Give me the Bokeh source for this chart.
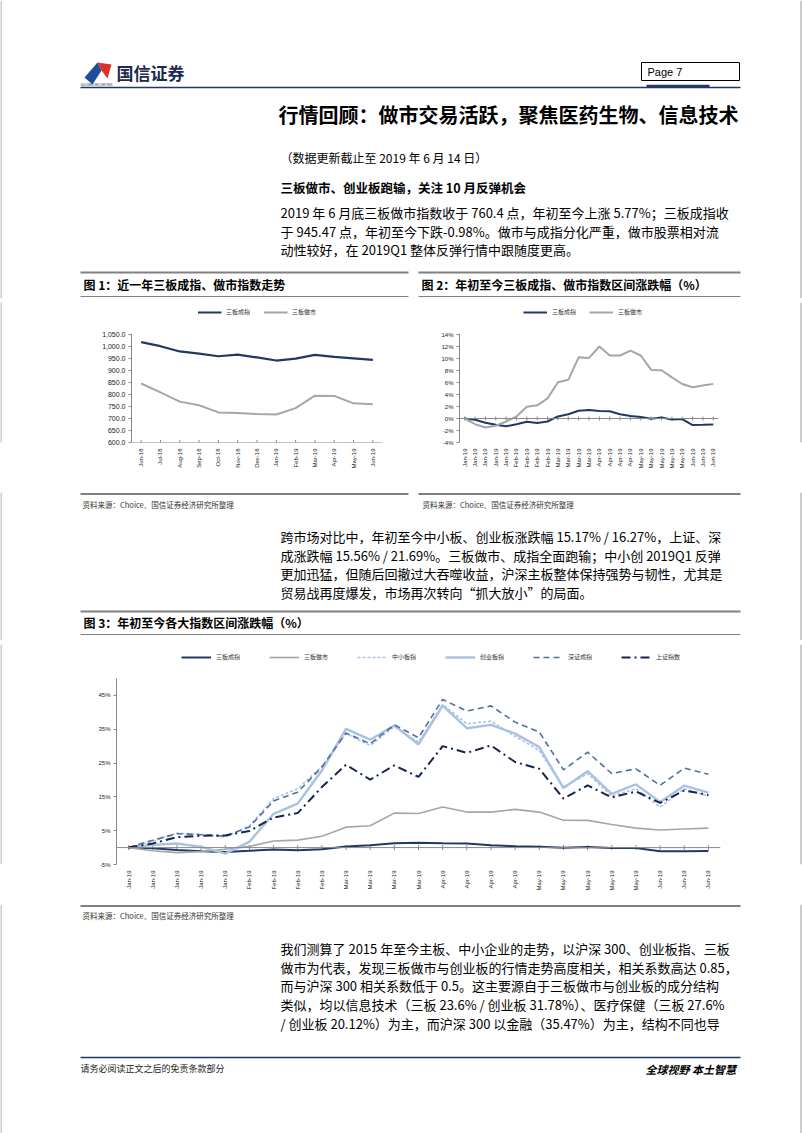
from math import pi
from bokeh.plotting import figure
from bokeh.layouts import column, row
from bokeh.models import (Range1d, FixedTicker, NumeralTickFormatter, PrintfTickFormatter,
                          Legend, LegendItem, Span)
from bokeh.core.properties import value
from bokeh.embed import file_html
from bokeh.resources import INLINE

CJK = "Noto Sans CJK SC"
LAT = "Liberation Sans"

# ---------------- data ----------------
months_1y = ["Jun-18", "Jul-18", "Aug-18", "Sep-18", "Oct-18", "Nov-18", "Dec-18",
             "Jan-19", "Feb-19", "Mar-19", "Apr-19", "May-19", "Jun-19"]
month_idx = list(range(len(months_1y)))
sanban_chengzhi_1y = [1020, 1003, 981, 972, 961, 968, 956, 943, 951, 967, 958, 952, 945.47]
sanban_zuoshi_1y = [847, 810, 771, 756, 726, 723, 719, 717, 744, 796, 795, 764, 760.4]

week_labels = (["Jan-19"] * 5 + ["Feb-19"] * 4 + ["Mar-19"] * 4 + ["Apr-19"] * 4
               + ["May-19"] * 5 + ["Jun-19"] * 3)
week_idx = list(range(len(week_labels)))

sanban_chengzhi_ytd = [0, -0.2, -0.7, -1.05, -1.3, -0.95, -0.55, -0.75, -0.5, 0.35, 0.7, 1.28, 1.4,
                       1.25, 1.2, 0.7, 0.4, 0.25, -0.05, 0.15, -0.15, -0.1, -1.1, -1.05, -0.98]
sanban_zuoshi_ytd = [0, -0.95, -1.5, -1.2, -0.5, 0.35, 1.95, 2.2, 3.35, 6.05, 6.45, 10.2, 10.1,
                     12.0, 10.5, 10.5, 11.3, 10.5, 8.1, 8.05, 6.85, 5.75, 5.2, 5.5, 5.77]
zhongxiao_ytd = [0, 1.9, 4.3, 3.9, 3.1, 6.4, 14.5, 17.4, 24.0, 33.7, 30.2, 35.8, 31.2,
                 42.3, 36.6, 37.4, 32.9, 28.7, 17.9, 21.9, 15.2, 17.4, 12.0, 17.4, 15.17]
chuangye_ytd = [0, 0.8, 1.2, 0.2, -1.8, 1.7, 10.0, 13.0, 22.8, 35.1, 31.9, 36.1, 30.5,
                42.0, 35.3, 36.3, 33.7, 29.7, 17.6, 22.6, 15.9, 18.7, 13.5, 18.3, 16.27]
shenzheng_ytd = [0, 2.2, 4.1, 3.8, 3.4, 6.1, 13.8, 16.4, 23.8, 33.9, 30.7, 36.3, 32.5,
                 43.8, 40.4, 41.9, 37.1, 34.2, 23.0, 28.2, 21.9, 23.3, 18.4, 23.5, 21.69]
shangzheng_ytd = [0, 1.2, 3.1, 3.5, 3.6, 4.9, 8.9, 10.2, 17.9, 24.5, 20.1, 24.3, 20.9,
                  30.0, 28.0, 30.2, 25.3, 23.3, 14.5, 18.4, 14.8, 16.6, 13.2, 16.9, 15.56]

# ---------------- colours ----------------
NAVY = "#1F3864"
GRAY_LINE = "#A6A6A6"
LIGHT_BLUE = "#A9C1E3"
STEEL = "#4F6F9F"
DARK = "#14264F"
AXIS = "#898989"
RULE = "#808080"

W = 802


def page_fig(y0, y1, x0=0, width=W):
    p = figure(width=width, height=y1 - y0, x_range=Range1d(x0, x0 + width),
               y_range=Range1d(y1, y0), output_backend="svg", toolbar_location=None,
               min_border=0, x_axis_location=None, y_axis_location=None,
               outline_line_color=None)
    p.xgrid.visible = False
    p.ygrid.visible = False
    if x0 == 0:
        p.segment(x0=[0.5], y0=[y0], x1=[0.5], y1=[y1], line_color="#9a9a9a", line_width=1)
    if x0 + width == W:
        p.segment(x0=[W - 1.5], y0=[y0], x1=[W - 1.5], y1=[y1], line_color="#9a9a9a", line_width=1)
    return p


def tx(p, x, y, s, size, bold=False, align="left", color="#000000", font=CJK, style=None):
    st = style if style else ("bold" if bold else "normal")
    p.text(x=[x], y=[y], text=[s], text_font=value(font), text_font_size=value(size),
           text_font_style=st, text_align=align, text_baseline="middle", text_color=color)


def rule(p, x0, x1, y, color=RULE, w=1.0):
    p.segment(x0=[x0], y0=[y], x1=[x1], y1=[y], line_color=color, line_width=w)


def chart_fig(width, height, n, lo, hi, plot_px, head_px, left, right, top, bottom):
    # the frame reaches head_px above the top of the value axis, to hold the legend
    y_end = hi + head_px * (hi - lo) / plot_px
    p = figure(width=width, height=height, x_range=Range1d(-0.5, n - 0.5),
               y_range=Range1d(lo, y_end), output_backend="svg", toolbar_location=None,
               min_border_left=left, min_border_right=right, min_border_top=top,
               min_border_bottom=bottom)
    p.title.visible = False
    return p


def style_axes(p, size="6px"):
    for ax in list(p.xaxis) + list(p.yaxis):
        ax.axis_line_color = AXIS
        ax.major_tick_line_color = AXIS
        ax.minor_tick_line_color = None
        ax.major_tick_in = 0
        ax.major_tick_out = 3
        ax.major_label_text_font = LAT
        ax.major_label_text_font_size = size
        ax.major_label_text_color = "#1a1a1a"
        ax.major_label_standoff = 3
    p.xgrid.visible = False
    p.ygrid.visible = False
    p.outline_line_color = None


def cat_xaxis(p, labels):
    p.xaxis.ticker = FixedTicker(ticks=list(range(len(labels))))
    p.xaxis.major_label_overrides = {i: lab for i, lab in enumerate(labels)}
    p.xaxis.major_label_orientation = pi / 2
    p.xaxis.major_label_text_font_size = "6px"
    p.xaxis.axis_line_color = None
    p.xaxis.major_tick_line_color = None


def base_line(p, level, idx, size):
    p.add_layout(Span(location=level, dimension="width", line_color=AXIS, line_width=1))
    p.scatter(idx, [level] * len(idx), marker="dash", angle=pi / 2, size=size, line_color=AXIS)


def add_legend(p, items, glyph_w, spacing, loc, margin=0):
    lg = Legend(items=[LegendItem(label=l, renderers=[r]) for l, r in items],
                orientation="horizontal", location=loc, glyph_width=glyph_w,
                glyph_height=8, label_height=8, label_standoff=5, spacing=spacing,
                padding=0, margin=margin, label_text_font=CJK, label_text_font_size="6px",
                label_text_color="#333333", border_line_color=None,
                background_fill_alpha=0)
    p.add_layout(lg)


# ---------------- section A: header ----------------
A = page_fig(0, 298)
A.patches(xs=[[84, 97, 101, 92], [97, 111, 107, 101]], ys=[[77, 62, 70, 84], [62, 64, 78, 70]],
          fill_color=["#1F4E9A", "#D9312B"], line_color=None)
tx(A, 116, 72, "国信证券", "17px", bold=True, color="#1b2a52")
tx(A, 80, 84, "GUOSEN SECURITIES", "3px", color="#1b2a52", font=LAT)
A.quad(left=[641], right=[739], top=[62], bottom=[80], fill_color=None, line_color="#000000",
       line_width=1)
tx(A, 647, 71, "Page  7", "11px", font=LAT)
rule(A, 80, 740, 87, color=NAVY, w=1.5)
rule(A, 646, 709, 85.5, color=NAVY, w=2.5)
tx(A, 738, 114, "行情回顾：做市交易活跃，聚焦医药生物、信息技术", "20px", bold=True, align="right")
tx(A, 280, 157, "（数据更新截止至 2019 年 6 月 14 日）", "12px")
tx(A, 280, 187, "三板做市、创业板跑输，关注 10 月反弹机会", "12.5px", bold=True)
para1 = ["2019 年 6 月底三板做市指数收于 760.4 点，年初至今上涨 5.77%；三板成指收",
         "于 945.47 点，年初至今下跌-0.98%。做市与成指分化严重，做市股票相对流",
         "动性较好，在 2019Q1 整体反弹行情中跟随度更高。"]
for i, s in enumerate(para1):
    tx(A, 280, 212 + 18.7 * i, s, "13px")
rule(A, 80, 408, 272, w=2)
rule(A, 418, 740, 272, w=2)
tx(A, 83, 284, "图 1：近一年三板成指、做市指数走势", "12px", bold=True)
tx(A, 421, 284, "图 2：年初至今三板成指、做市指数区间涨跌幅（%）", "12px", bold=True)
rule(A, 80, 408, 296, w=1)
rule(A, 418, 740, 296, w=1)

# ---------------- chart 1 ----------------
p1 = chart_fig(330, 194, len(months_1y), 600, 1050, 106, 32, 51, 28, 4, 43)
base_line(p1, 600, month_idx, 5)
r1a = p1.line(month_idx, sanban_chengzhi_1y, line_color=NAVY, line_width=2.2)
r1b = p1.line(month_idx, sanban_zuoshi_1y, line_color=GRAY_LINE, line_width=2)
p1.yaxis.ticker = FixedTicker(ticks=list(range(600, 1051, 50)))
p1.yaxis.formatter = NumeralTickFormatter(format="0,0.0")
p1.yaxis.bounds = (600, 1050)
style_axes(p1, "7px")
cat_xaxis(p1, months_1y)
add_legend(p1, [("三板成指", r1a), ("三板做市", r1b)], 24, 13, "top_center", margin=5)

# ---------------- chart 2 ----------------
p2 = chart_fig(322, 194, len(week_labels), -4, 14, 108, 32, 41, 22, 4, 50)
base_line(p2, 0, week_idx, 4)
r2a = p2.line(week_idx, sanban_chengzhi_ytd, line_color=NAVY, line_width=2)
r2b = p2.line(week_idx, sanban_zuoshi_ytd, line_color=GRAY_LINE, line_width=2)
p2.yaxis.ticker = FixedTicker(ticks=list(range(-4, 15, 2)))
p2.yaxis.formatter = PrintfTickFormatter(format="%d%%")
p2.yaxis.bounds = (-4, 14)
style_axes(p2, "6px")
cat_xaxis(p2, week_labels)
add_legend(p2, [("三板成指", r2a), ("三板做市", r2b)], 24, 13, (64, 126))

# ---------------- section C ----------------
C = page_fig(492, 640)
rule(C, 80, 408, 493.5, w=2)
rule(C, 418, 740, 493.5, w=2)
src = "资料来源：Choice、国信证券经济研究所整理"
tx(C, 82, 504, src, "7.5px", color="#333333")
tx(C, 422, 504, src, "7.5px", color="#333333")
para2 = ["跨市场对比中，年初至今中小板、创业板涨跌幅 15.17% / 16.27%，上证、深",
         "成涨跌幅 15.56% / 21.69%。三板做市、成指全面跑输；中小创 2019Q1 反弹",
         "更加迅猛，但随后回撤过大吞噬收益，沪深主板整体保持强势与韧性，尤其是",
         "贸易战再度爆发，市场再次转向“抓大放小”的局面。"]
for i, s in enumerate(para2):
    tx(C, 280, 536 + 18.7 * i, s, "13px")
rule(C, 80, 740, 611, w=2)
tx(C, 83, 622, "图 3：年初至今各大指数区间涨跌幅（%）", "12px", bold=True)
rule(C, 80, 740, 634, w=1)

# ---------------- chart 3 ----------------
p3 = chart_fig(660, 264, len(week_labels), -5, 50, 186, 34, 36, 20, 4, 40)
base_line(p3, 0, week_idx, 5)
r3a = p3.line(week_idx, sanban_chengzhi_ytd, line_color=NAVY, line_width=2)
r3b = p3.line(week_idx, sanban_zuoshi_ytd, line_color=GRAY_LINE, line_width=1.6)
r3c = p3.line(week_idx, zhongxiao_ytd, line_color=LIGHT_BLUE, line_width=1.6, line_dash="3 2")
r3d = p3.line(week_idx, chuangye_ytd, line_color=LIGHT_BLUE, line_width=2.4)
r3e = p3.line(week_idx, shenzheng_ytd, line_color=STEEL, line_width=1.6, line_dash="6 4")
r3f = p3.line(week_idx, shangzheng_ytd, line_color=DARK, line_width=2, line_dash="9 4 2 4")
p3.yaxis.ticker = FixedTicker(ticks=[-5, 5, 15, 25, 35, 45])
p3.yaxis.formatter = PrintfTickFormatter(format="%d%%")
p3.yaxis.bounds = (-5, 50)
style_axes(p3, "6px")
cat_xaxis(p3, week_labels)
add_legend(p3, [("三板成指", r3a), ("三板做市", r3b), ("中小板指", r3c), ("创业板指", r3d),
                ("深证成指", r3e), ("上证指数", r3f)], 30, 29, (65, 203))

# ---------------- section E ----------------
E = page_fig(904, 1133)
rule(E, 80, 740, 905.5, w=2)
tx(E, 82, 915, src, "7.5px", color="#333333")
para3 = ["我们测算了 2015 年至今主板、中小企业的走势，以沪深 300、创业板指、三板",
         "做市为代表，发现三板做市与创业板的行情走势高度相关，相关系数高达 0.85，",
         "而与沪深 300 相关系数低于 0.5。这主要源自于三板做市与创业板的成分结构",
         "类似，均以信息技术（三板 23.6% / 创业板 31.78%）、医疗保健（三板 27.6%",
         "/ 创业板 20.12%）为主，而沪深 300 以金融（35.47%）为主，结构不同也导"]
for i, s in enumerate(para3):
    tx(E, 280, 948 + 18.7 * i, s, "13px")
rule(E, 80, 740, 1057, color=NAVY, w=1.5)
tx(E, 80, 1068, "请务必阅读正文之后的免责条款部分", "9px", color="#222222")
tx(E, 738, 1068, "全球视野  本土智慧", "11px", align="right", style="bold italic")

# ---------------- layout ----------------
rowB = row(page_fig(298, 492, 0, 80), p1, page_fig(298, 492, 410, 8), p2,
           page_fig(298, 492, 740, 62))
rowD = row(page_fig(640, 904, 0, 80), p3, page_fig(640, 904, 740, 62))
root = column(A, rowB, C, rowD, E)

open("out.html", "w").write(file_html(root, INLINE))
